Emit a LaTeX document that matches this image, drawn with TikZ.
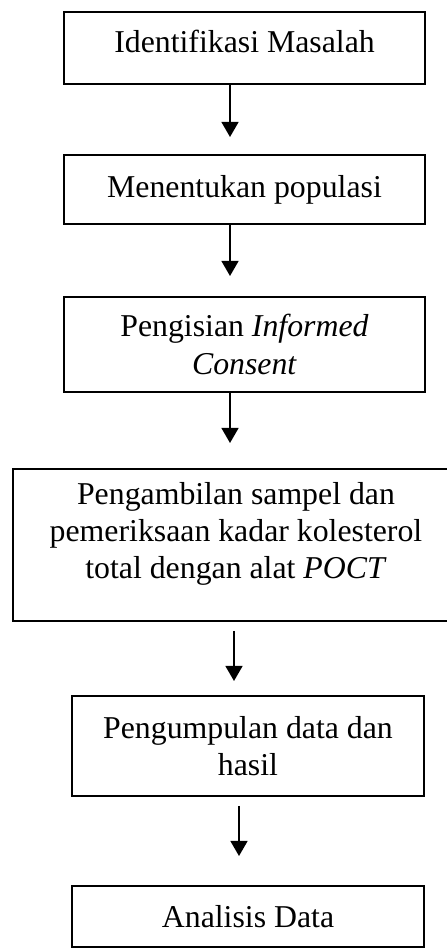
\documentclass[tikz,border=0pt]{standalone}
\usepackage{fontspec}
\setmainfont{Liberation Serif}
\usetikzlibrary{arrows.meta}

\tikzset{
	box/.style={draw, line width=0.7pt, align=center, inner sep=2pt, font=\fontsize{12}{14}\selectfont},
	arr/.style={line width=0.7pt, -{Triangle[length=5.7pt,width=6.4pt]}}
}

\begin{document}
\begin{tikzpicture}[x=0.3774pt, y=-0.3774pt]
		\useasboundingbox (0,0) rectangle (446,948);

		\node[box, minimum width=136.2pt, minimum height=27.2pt, text depth=5.2pt] (identifikasi) at (244.5,48) {Identifikasi Masalah};
		\node[box, minimum width=136.2pt, minimum height=26pt] (populasi) at (244.5,189.5) {Menentukan populasi};
		\node[box, minimum width=136.2pt, minimum height=35.9pt] (consent) at (244.5,344.5) {Pengisian \textit{Informed}\\ \textit{Consent}};
		\node[box, minimum width=168.3pt, minimum height=57.4pt] (sampel) at (236,545) {Pengambilan sampel dan\\ pemeriksaan kadar kolesterol\\ total dengan alat \textit{POCT}\\[-3pt]\mbox{}};
		\node[box, minimum width=132.8pt, minimum height=37.7pt] (pengumpulan) at (248,746) {Pengumpulan data dan\\ hasil};
		\node[box, minimum width=132.8pt, minimum height=23pt] (analisis) at (248,916.5) {Analisis Data};

		\coordinate (t1) at (230,137);
		\coordinate (t2) at (230,276);
		\coordinate (t3) at (230,443);
		\coordinate (t4) at (234,681);
		\coordinate (t5) at (239,856);

		\draw[arr] (identifikasi.south -| t1) -- (t1);
		\draw[arr] (populasi.south -| t2) -- (t2);
		\draw[arr] (consent.south -| t3) -- (t3);
		\draw[arr, shorten <=3.4pt] (sampel.south -| t4) -- (t4);
		\draw[arr, shorten <=3.4pt] (pengumpulan.south -| t5) -- (t5);

	\end{tikzpicture}
\end{document}
